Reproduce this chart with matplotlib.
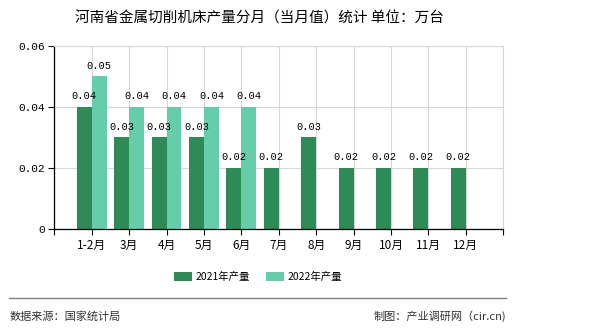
import numpy as np
import matplotlib
matplotlib.use('Agg')
import matplotlib.pyplot as plt
from matplotlib.lines import Line2D

plt.rcParams['font.family'] = ['Noto Sans CJK SC', 'DejaVu Sans']

# data
months = ['1-2月', '3月', '4月', '5月', '6月', '7月', '8月', '9月', '10月', '11月', '12月']
prod_2021 = [0.04, 0.03, 0.03, 0.03, 0.02, 0.02, 0.03, 0.02, 0.02, 0.02, 0.02]
prod_2022 = [0.05, 0.04, 0.04, 0.04, 0.04]
yticks = [0, 0.02, 0.04, 0.06]
ytick_labels = ['0', '0.02', '0.04', '0.06']

c2021 = '#2e8b57'
c2022 = '#66cdaa'
num_font = 'Liberation Mono'

fig = plt.figure(figsize=(5.9, 3.3), dpi=100, facecolor='white')
ax = fig.add_axes([0.092, 0.306, 0.761, 0.555])

x = np.arange(1, len(months) + 1)
w = 0.4
ax.bar(x[:len(prod_2021)] - w / 2, prod_2021, w, color=c2021, label='2021年产量', zorder=2)
ax.bar(x[:len(prod_2022)] + w / 2, prod_2022, w, color=c2022, label='2022年产量', zorder=2)

# value labels
for xi, v in zip(x - w / 2, prod_2021):
    ax.annotate('%.2f' % v, (xi, v), xytext=(0, 4), textcoords='offset points',
                ha='center', va='bottom', fontsize=7.5, family=num_font)
for xi, v in zip(x + w / 2, prod_2022):
    ax.annotate('%.2f' % v, (xi, v), xytext=(0, 4), textcoords='offset points',
                ha='center', va='bottom', fontsize=7.5, family=num_font)

ax.set_xlim(0, 12)
ax.set_ylim(0, 0.06)
ax.set_xticks(range(0, 13))
ax.set_xticklabels([''] + months + [''], fontsize=8.5)
ax.set_yticks(yticks)
ax.set_yticklabels(ytick_labels, fontsize=8, family=num_font)
ax.tick_params(axis='both', direction='out', length=4, width=0.8, color='black', pad=3)

ax.set_axisbelow(True)
ax.grid(True, color='#d6d6d6', linewidth=0.8, zorder=0)
for s in ['top', 'right']:
    ax.spines[s].set_color('#d6d6d6')
for s in ['left', 'bottom']:
    ax.spines[s].set_color('black')
    ax.spines[s].set_linewidth(0.9)

fig.text(0.44, 0.945, '河南省金属切削机床产量分月（当月值）统计 单位：万台',
         ha='center', va='center', fontsize=10.5)

fig.legend(loc='center', bbox_to_anchor=(0.437, 0.16), ncol=2, frameon=False,
           fontsize=7.5, handlelength=1.8, handleheight=0.9, columnspacing=1.5,
           handletextpad=0.3)

fig.add_artist(Line2D([9 / 590, 506 / 590], [1 - 298 / 330] * 2, color='#808080', linewidth=1.0))
fig.text(10 / 590, 1 - 316 / 330, '数据来源：国家统计局', ha='left', va='center',
         fontsize=8, color='#333333')
fig.text(506 / 590, 1 - 316 / 330, '制图：产业调研网（cir.cn)', ha='right', va='center',
         fontsize=8, color='#333333')

fig.savefig('out.png', dpi=100, facecolor='white')
